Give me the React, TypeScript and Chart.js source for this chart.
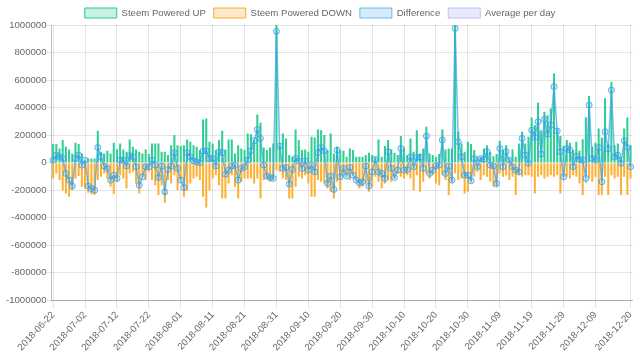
import React, { useEffect, useRef } from 'react';
import { Chart, registerables } from 'chart.js';

Chart.register(...registerables);

const FIRST_DAY = '2018-06-22';
const DAY_COUNT = 182;

const categories: string[] = (() => {
  const out: string[] = [];
  const d = new Date(FIRST_DAY + 'T00:00:00Z');
  for (let i = 0; i < DAY_COUNT; i++) {
    out.push(d.toISOString().slice(0, 10));
    d.setUTCDate(d.getUTCDate() + 1);
  }
  return out;
})();

const poweredUp: number[] = [
  135000, 135000, 103000, 164000, 115000, 96000, 67000, 144000, 135000, 67000,
  18000, 30000, 30000, 30000, 232000, 79000, 67000, 86000, 67000, 144000,
  96000, 139000, 96000, 79000, 168000, 115000, 96000, 79000, 67000, 96000,
  62000, 139000, 139000, 139000, 79000, 79000, 55000, 127000, 200000, 127000,
  120000, 127000, 168000, 152000, 127000, 115000, 91000, 314000, 321000, 152000,
  139000, 91000, 164000, 232000, 96000, 168000, 168000, 67000, 127000, 103000,
  91000, 212000, 207000, 164000, 350000, 290000, 110000, 91000, 110000, 139000,
  1040000, 127000, 212000, 176000, 55000, 42000, 241000, 164000, 91000, 96000,
  79000, 188000, 183000, 241000, 236000, 200000, 91000, 212000, 67000, 115000,
  91000, 86000, 42000, 103000, 91000, 42000, 42000, 42000, 55000, 72000,
  55000, 38000, 168000, 42000, 120000, 164000, 96000, 72000, 55000, 193000,
  110000, 55000, 176000, 79000, 236000, 67000, 103000, 261000, 67000, 55000,
  42000, 62000, 241000, 96000, 103000, 103000, 1054000, 224000, 139000, 79000,
  152000, 135000, 91000, 42000, 42000, 103000, 127000, 79000, 47000, 62000,
  159000, 91000, 127000, 30000, 96000, 42000, 139000, 224000, 139000, 188000,
  328000, 273000, 435000, 236000, 370000, 345000, 394000, 648000, 248000, 193000,
  120000, 164000, 144000, 91000, 152000, 86000, 170000, 330000, 484000, 115000,
  144000, 248000, 183000, 467000, 135000, 588000, 127000, 139000, 42000, 248000,
  328000, 127000,
];

const poweredDown: number[] = [
  -115000, -79000, -127000, -200000, -224000, -248000, -200000, -115000, -98000, -176000,
  -188000, -219000, -229000, -236000, -127000, -103000, -79000, -115000, -176000, -229000,
  -139000, -91000, -115000, -188000, -79000, -67000, -152000, -224000, -103000, -127000,
  -67000, -127000, -164000, -236000, -164000, -292000, -127000, -152000, -91000, -200000,
  -127000, -248000, -200000, -152000, -115000, -103000, -127000, -248000, -326000, -200000,
  -115000, -91000, -164000, -261000, -261000, -152000, -91000, -176000, -261000, -139000,
  -115000, -115000, -115000, -152000, -115000, -261000, -127000, -115000, -139000, -127000,
  -55000, -67000, -115000, -127000, -261000, -261000, -176000, -103000, -115000, -91000,
  -152000, -248000, -248000, -127000, -139000, -152000, -188000, -212000, -261000, -139000,
  -200000, -103000, -79000, -127000, -91000, -127000, -188000, -176000, -152000, -212000,
  -176000, -103000, -139000, -188000, -152000, -127000, -139000, -115000, -79000, -103000,
  -115000, -91000, -115000, -200000, -91000, -212000, -139000, -79000, -115000, -91000,
  -152000, -164000, -91000, -127000, -236000, -139000, -79000, -127000, -115000, -224000,
  -212000, -139000, -103000, -67000, -127000, -91000, -103000, -139000, -176000, -176000,
  -79000, -103000, -91000, -127000, -103000, -236000, -91000, -103000, -91000, -91000,
  -103000, -224000, -103000, -91000, -115000, -103000, -91000, -103000, -91000, -224000,
  -103000, -103000, -115000, -91000, -103000, -152000, -236000, -91000, -115000, -139000,
  -103000, -236000, -236000, -103000, -236000, -91000, -115000, -103000, -236000, -103000,
  -236000, -115000,
];

const difference: number[] = [
  18000, 55000, 42000, 30000, -79000, -127000, -171000, 30000, 55000, -18000,
  18000, -171000, -188000, -200000, 110000, 42000, -25000, -42000, -127000, -91000,
  -115000, 18000, 18000, -25000, 50000, 42000, -30000, -164000, -103000, -30000,
  -30000, 18000, -18000, -108000, -25000, -212000, -50000, -25000, 72000, -42000,
  -127000, -181000, 72000, 42000, 13000, 6000, -1000, 84000, 86000, 30000,
  30000, -25000, 79000, 72000, -84000, -55000, -25000, -18000, -127000, -42000,
  -30000, 18000, 86000, 159000, 241000, 176000, -18000, -98000, -108000, -115000,
  953000, 120000, -42000, -35000, -156000, -50000, 30000, 11000, -42000, 13000,
  -55000, -18000, -67000, 72000, 110000, 86000, -152000, -98000, -195000, 91000,
  -103000, -42000, -98000, -35000, -91000, -127000, -147000, -139000, -25000, -171000,
  -67000, 23000, -67000, -79000, -115000, 79000, -42000, -108000, -55000, 103000,
  -55000, -50000, 42000, -30000, 38000, 38000, -42000, 193000, -79000, -55000,
  -25000, -18000, 164000, -79000, -25000, -127000, 975000, 152000, 42000, -91000,
  -91000, -132000, 30000, -30000, 30000, 23000, 79000, -18000, -25000, -152000,
  103000, -30000, 79000, 18000, -30000, -55000, -67000, 176000, 55000, -6000,
  236000, 183000, 297000, 62000, 314000, 207000, 273000, 552000, 230000, 79000,
  -103000, 103000, 91000, -30000, 47000, 23000, 18000, -115000, 418000, 30000,
  18000, 110000, -139000, 224000, 100000, 527000, 42000, 55000, -6000, 159000,
  110000, -30000,
];

const averagePerDay: number[] = [];

const Y_MIN = -1000000;
const Y_MAX = 1000000;
const Y_STEP = 200000;
const LABEL_EVERY = 10;

const FONT = "'Liberation Sans', Arial, Helvetica, sans-serif";
const FONT_SIZE = 9.6;

const LEGEND_FILLS = [
  'rgba(38, 204, 143, 0.25)',
  'rgba(252, 172, 44, 0.25)',
  'rgba(54, 162, 235, 0.2)',
  'rgba(200, 200, 250, 0.4)',
];

const legendTrim = {
  id: 'legendTrim',
  afterInit(chart: any) {
    const lg = chart.legend;
    if (!lg || lg.__trimmed) return;
    const orig = lg.fit.bind(lg);
    lg.fit = function () {
      orig();
      this.height -= 3;
    };
    lg.__trimmed = true;
  },
};

export default function App() {
  const ref = useRef<HTMLCanvasElement | null>(null);

  useEffect(() => {
    if (!ref.current) return;
    const last = categories.length - 1;
    const chart = new Chart(ref.current, {
      type: 'bar',
      data: {
        labels: categories,
        datasets: [
          {
            type: 'bar',
            label: 'Steem Powered UP',
            data: poweredUp,
            backgroundColor: 'rgb(46, 206, 148)',
            borderColor: 'rgb(38, 204, 143)',
            borderWidth: 0,
            grouped: false,
            categoryPercentage: 0.8,
            barPercentage: 0.8,
            order: 2,
          } as any,
          {
            type: 'bar',
            label: 'Steem Powered DOWN',
            data: poweredDown,
            backgroundColor: 'rgb(253, 176, 52)',
            borderColor: 'rgb(252, 172, 44)',
            borderWidth: 0,
            grouped: false,
            categoryPercentage: 0.8,
            barPercentage: 0.8,
            order: 2,
          } as any,
          {
            type: 'line',
            label: 'Difference',
            data: difference,
            backgroundColor: 'rgba(54, 162, 235, 0.2)',
            borderColor: 'rgba(54, 162, 235, 0.7)',
            borderWidth: 1.5,
            pointRadius: 3,
            pointBorderWidth: 1,
            pointBackgroundColor: 'rgba(54, 162, 235, 0.2)',
            pointBorderColor: 'rgba(54, 162, 235, 0.8)',
            fill: false,
            tension: 0,
            order: 1,
          } as any,
          {
            type: 'line',
            label: 'Average per day',
            data: averagePerDay,
            backgroundColor: 'rgba(200, 200, 250, 0.4)',
            borderColor: 'rgba(190, 190, 245, 1)',
            borderWidth: 1,
            pointRadius: 0,
            fill: false,
            order: 0,
          } as any,
        ],
      },
      options: {
        animation: false,
        responsive: true,
        maintainAspectRatio: false,
        layout: { padding: { left: 6, right: 6, top: 0, bottom: 7 } },
        plugins: {
          tooltip: { enabled: false },
          legend: {
            position: 'top',
            labels: {
              boxWidth: 32,
              boxHeight: 10,
              padding: 8,
              color: '#666',
              font: { family: FONT, size: FONT_SIZE },
              sort: (a: any, b: any) => a.datasetIndex - b.datasetIndex,
              generateLabels: (c: any) => {
                const items = Chart.defaults.plugins.legend.labels.generateLabels(c);
                items.forEach((it: any) => {
                  it.fillStyle = LEGEND_FILLS[it.datasetIndex];
                  it.lineWidth = 1;
                });
                return items;
              },
            },
          },
        },
        scales: {
          x: {
            offset: true,
            grid: { offset: false, color: 'rgba(0,0,0,0.1)', tickLength: 8 },
            border: { color: 'rgba(0,0,0,0.25)' },
            ticks: {
              autoSkip: false,
              minRotation: 47,
              maxRotation: 47,
              color: '#666',
              padding: 1,
              font: { family: FONT, size: FONT_SIZE },
              callback: (_v: any, index: number) => {
                if (index === last) return categories[index];
                if (index % LABEL_EVERY === 0 && index + LABEL_EVERY < categories.length) return categories[index];
                return null;
              },
            },
          },
          y: {
            min: Y_MIN,
            max: Y_MAX,
            grid: { color: 'rgba(0,0,0,0.1)', tickLength: 5 },
            border: { color: 'rgba(0,0,0,0.25)' },
            ticks: {
              stepSize: Y_STEP,
              color: '#666',
              padding: 0,
              font: { family: FONT, size: FONT_SIZE },
              callback: (v: any) => String(v),
            },
          },
        },
      },
      plugins: [legendTrim],
    });
    return () => chart.destroy();
  }, []);

  return (
    <div style={{ position: 'fixed', left: 0, top: 0, width: 640, height: 361, background: '#fff' }}>
      <canvas ref={ref} />
    </div>
  );
}
